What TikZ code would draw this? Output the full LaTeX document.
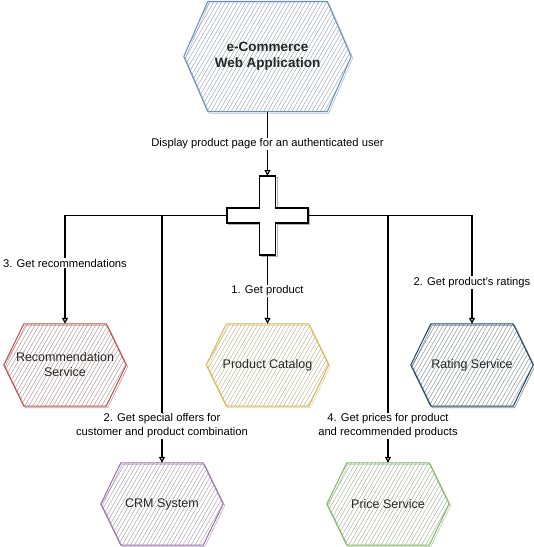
\documentclass[tikz,border=0pt]{standalone}
\usepackage{fontspec}
\setmainfont{Liberation Sans}
\usetikzlibrary{patterns.meta,arrows.meta,backgrounds}

\definecolor{appblue}{HTML}{6C8EBF}
\definecolor{recred}{HTML}{B85450}
\definecolor{catgold}{HTML}{D6B656}
\definecolor{ratedark}{HTML}{23445D}
\definecolor{crmpurple}{HTML}{9673A6}
\definecolor{pricegreen}{HTML}{82B366}

\tikzset{
  svc/.style={minimum width=122pt, minimum height=82pt, inner sep=0pt,
    text=black!85, align=center, font=\fontsize{12.5}{15}\selectfont},
  hexfill/.style={draw=#1, line width=1pt,
    pattern={Lines[angle=60,distance=3.5pt,line width=.45pt]},
    pattern color=#1!45!gray!75,
    postaction={draw=#1, line width=.6pt, opacity=.6,
      transform canvas={shift={(1.5pt,-1.5pt)}}}},
  flow/.style={draw, line width=1.2pt, -{Triangle[open,length=6pt,width=6pt]}},
  lbl/.style={fill=white, inner sep=1pt, align=center,
    font=\fontsize{11.2}{13.5}\selectfont},
}

% hexagon behind a node: name, colour, depth of the side points
\newcommand{\hexshape}[3]{%
  \begin{pgfonlayer}{background}
  \path[hexfill=#2] (#1.west) -- ([xshift=#3]#1.north west) -- ([xshift=-#3]#1.north east)
    -- (#1.east) -- ([xshift=-#3]#1.south east) -- ([xshift=#3]#1.south west) -- cycle;
  \end{pgfonlayer}}

\begin{document}
\begin{tikzpicture}[x=1pt,y=-1pt]
\useasboundingbox (0,0) rectangle (534,547);

% the application on top
\node[svc, minimum width=167pt, minimum height=110pt,
  font=\fontsize{13.5}{16}\selectfont\bfseries] (app) at (267.5,56.5)
  {e-Commerce\\Web Application};
\hexshape{app}{appblue}{24pt}

% services
\node[svc] (rec) at (65,365) {Recommendation\\Service};
\node[svc] (cat) at (267.5,365) {Product Catalog};
\node[svc] (rate) at (472,365) {Rating Service};
\node[svc] (crm) at (162,504) {CRM System};
\node[svc] (price) at (388,504) {Price Service};
\hexshape{rec}{recred}{20pt}
\hexshape{cat}{catgold}{20pt}
\hexshape{rate}{ratedark}{20pt}
\hexshape{crm}{crmpurple}{20pt}
\hexshape{price}{pricegreen}{20pt}

% the aggregator cross
\draw[line width=.8pt, gray!60, transform canvas={shift={(1.5pt,-1.5pt)}}]
  (259.5,176) -- (275.5,176) -- (275.5,208) -- (308,208) -- (308,223) -- (275.5,223)
  -- (275.5,255) -- (259.5,255) -- (259.5,223) -- (227,223) -- (227,208) -- (259.5,208) -- cycle;
\draw[line width=1.4pt, fill=white]
  (259.5,176) -- (275.5,176) -- (275.5,208) -- (308,208) -- (308,223) -- (275.5,223)
  -- (275.5,255) -- (259.5,255) -- (259.5,223) -- (227,223) -- (227,208) -- (259.5,208) -- cycle;
\coordinate (crossT) at (267.5,176);
\coordinate (crossB) at (267.5,255);
\coordinate (crossL) at (227,215.5);
\coordinate (crossR) at (308,215.5);
\coordinate (crmtap) at (crm |- crossL);
\coordinate (pricetap) at (price |- crossR);

% calls
\draw[flow] (app) -- (crossT)
  node[lbl, midway] {Display product page for an authenticated user};
\draw[flow] (crossB) -- (cat) node[lbl, pos=.52] {1. Get product};
\draw[flow] (crossL) -| (rec) node[lbl, pos=.72] {3. Get recommendations};
\draw[flow] (crossR) -| (rate) node[lbl, pos=.81] {2. Get product's ratings};
\draw[flow] (crmtap) -- (crm)
  node[lbl, pos=.85] {2. Get special offers for\\customer and product combination};
\draw[flow] (pricetap) -- (price)
  node[lbl, pos=.85] {4. Get prices for product\\and recommended products};
\end{tikzpicture}
\end{document}
